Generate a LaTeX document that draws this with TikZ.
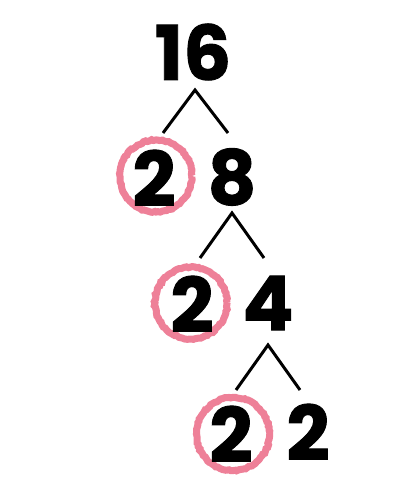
\documentclass[tikz,border=0pt]{standalone}
\usepackage{fontspec}
\setmainfont{Poppins}[BoldFeatures={FakeBold=1.2}]
\usetikzlibrary{positioning, calc, backgrounds, decorations.pathmorphing}
\definecolor{chalkpink}{RGB}{238,128,152}

\begin{document}
\begin{tikzpicture}
  \useasboundingbox (0,0) rectangle (8,10);
  \tikzset{
    num/.style={inner sep=0pt, font=\fontsize{43}{48}\selectfont\bfseries},
    branch/.style={line width=1.7pt},
    chalk/.style={chalkpink, line width=4pt, decorate,
      decoration={random steps, segment length=1.2pt, amplitude=0.4pt}}
  }
  % Numbers
  \node[num] (n16) at (3.86,8.96) {16};
  \node[num] (n2a) at (3.08,6.44) {2};
  \node[num] (n8) at (4.64,6.46) {8};
  \node[num] (n2b) at (3.84,3.92) {2};
  \node[num] (n4) at (5.36,3.94) {4};
  \node[num] (n2c) at (4.62,1.32) {2};
  \node[num] (n2d) at (6.16,1.36) {2};

  % Branch ends
  \coordinate (t1) at (3.9,8.2);
  \coordinate (l1) at (3.26,7.34);
  \coordinate (r1) at (4.56,7.34);
  \coordinate (t2) at (4.64,5.74);
  \coordinate (l2) at (4.0,4.84);
  \coordinate (r2) at (5.28,4.84);
  \coordinate (t3) at (5.36,3.1);
  \coordinate (l3) at (4.72,2.2);
  \coordinate (r3) at (6.0,2.2);

  % Branches
  \draw[branch] (l1) -- (t1) -- (r1);
  \draw[branch] (l2) -- (t2) -- (r2);
  \draw[branch] (l3) -- (t3) -- (r3);

  % Circled primes
  \begin{pgfonlayer}{background}
  \draw[chalk] ($(n2a)+(0.04,0.04)$) circle (0.72);
  \draw[chalk] ($(n2b)+(-0.02,0.02)$) circle (0.72);
  \draw[chalk] ($(n2c)+(0.04,0)$) circle (0.73);
  \end{pgfonlayer}
\end{tikzpicture}
\end{document}
